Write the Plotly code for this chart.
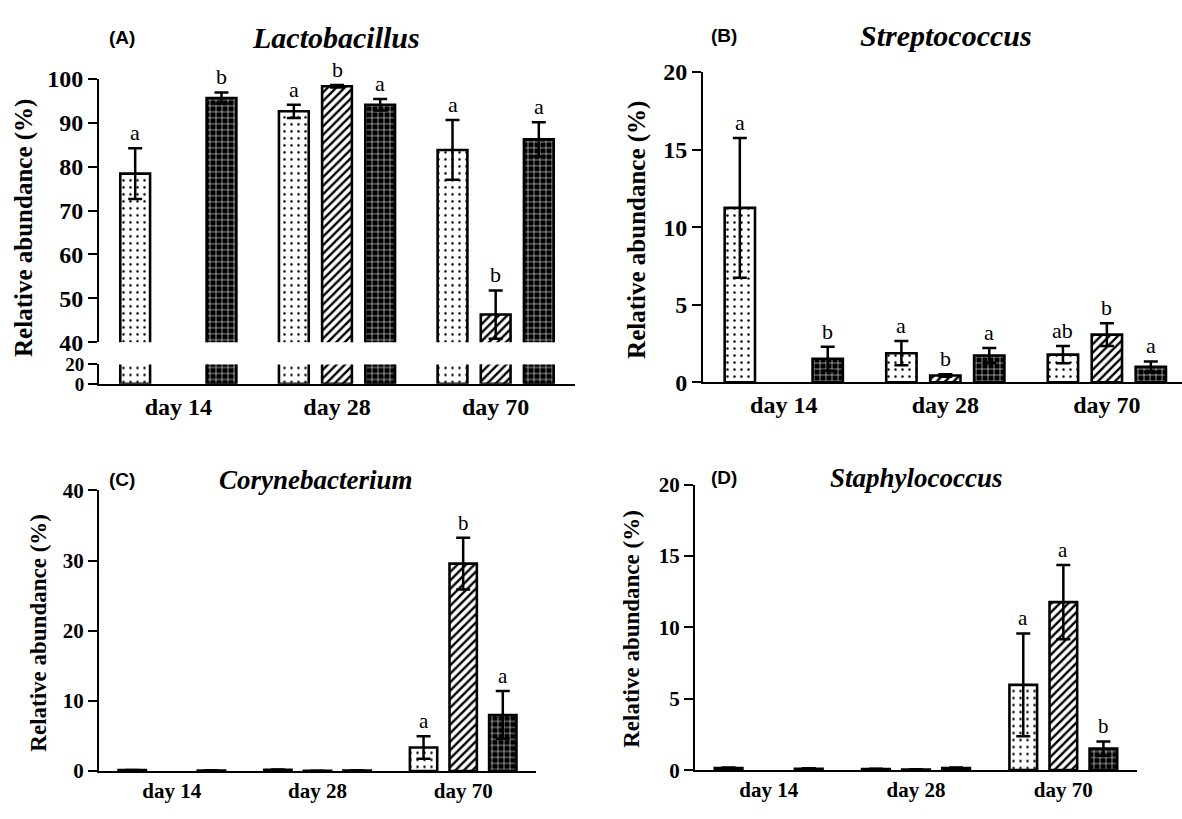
import plotly.graph_objects as go

W, H = 1182, 819

days = ["day 14", "day 28", "day 70"]

# Panel A: Lactobacillus
lacto_s1 = [78.4, 92.6, 83.8]
lacto_s1_err = [5.8, 1.5, 6.8]
lacto_s2 = [None, 98.3, 46.3]
lacto_s2_err = [None, 0.3, 5.5]
lacto_s3 = [95.6, 94.1, 86.2]
lacto_s3_err = [1.3, 1.3, 3.9]
lacto_letters = [["a", "a", "a"], ["", "b", "b"], ["b", "a", "a"]]

# Panel B: Streptococcus
strep_s1 = [11.25, 1.88, 1.79]
strep_s1_err = [4.5, 0.78, 0.56]
strep_s2 = [None, 0.44, 3.08]
strep_s2_err = [None, 0.08, 0.73]
strep_s3 = [1.52, 1.73, 1.0]
strep_s3_err = [0.77, 0.48, 0.35]
strep_letters = [["a", "a", "ab"], ["", "b", "b"], ["b", "a", "a"]]

# Panel C: Corynebacterium
coryne_s1 = [0.15, 0.2, 3.36]
coryne_s1_err = [0.03, 0.05, 1.6]
coryne_s2 = [None, 0.05, 29.56]
coryne_s2_err = [None, 0.02, 3.7]
coryne_s3 = [0.1, 0.1, 8.0]
coryne_s3_err = [0.03, 0.03, 3.4]
coryne_letters = [["", "", "a"], ["", "", "b"], ["", "", "a"]]

# Panel D: Staphylococcus
staph_s1 = [0.15, 0.08, 5.97]
staph_s1_err = [0.04, 0.02, 3.6]
staph_s2 = [None, 0.05, 11.77]
staph_s2_err = [None, 0.02, 2.6]
staph_s3 = [0.1, 0.15, 1.51]
staph_s3_err = [0.03, 0.04, 0.5]
staph_letters = [["", "", "a"], ["", "", "a"], ["", "", "b"]]

series_names = ["Group 1", "Group 2", "Group 3"]

BARGAP = 0.184
BARGROUPGAP = 0.31
SLOT = (1 - BARGAP) / 3

patterns = [
    dict(shape=".", fgcolor="black", bgcolor="white", size=7, solidity=0.1, fillmode="replace"),
    dict(shape="/", fgcolor="black", bgcolor="white", size=6, solidity=0.4, fillmode="replace"),
    dict(shape="+", fgcolor="white", bgcolor="black", size=6, solidity=0.18, fillmode="replace"),
]
fill_colors = ["white", "white", "black"]

SERIF = "Liberation Serif"
SANS = "Liberation Sans"

fig = go.Figure()
xidx = list(range(len(days)))


def add_bars(vals, errs, xa, ya, with_err=True):
    for j, (v, e) in enumerate(zip(vals, errs)):
        kw = {}
        if with_err:
            kw["error_y"] = dict(type="data", array=[x if x is not None else 0 for x in e],
                                 visible=True, color="black", thickness=2.5, width=7)
        fig.add_trace(go.Bar(
            x=xidx, y=v, name=series_names[j], xaxis=xa, yaxis=ya,
            marker=dict(color=fill_colors[j], pattern=patterns[j],
                        line=dict(color="black", width=2.6)),
            showlegend=False, **kw))


def add_letters(vals, errs, letters, xa, ya, size):
    for j in range(3):
        for i in range(3):
            t = letters[j][i]
            if not t or vals[j][i] is None:
                continue
            fig.add_annotation(
                x=i + (j - 1) * SLOT, y=vals[j][i] + (errs[j][i] or 0),
                xref=xa, yref=ya, text=t, showarrow=False,
                yanchor="bottom", yshift=1,
                font=dict(family=SERIF, size=size, color="black"))


# Panel A (broken axis)
A_vals = [lacto_s1, lacto_s2, lacto_s3]
A_errs = [lacto_s1_err, lacto_s2_err, lacto_s3_err]
add_bars(A_vals, A_errs, "x", "y", True)
add_bars(A_vals, A_errs, "x", "y2", False)
add_letters(A_vals, A_errs, lacto_letters, "x", "y", 22)

B_vals = [strep_s1, strep_s2, strep_s3]
B_errs = [strep_s1_err, strep_s2_err, strep_s3_err]
add_bars(B_vals, B_errs, "x2", "y3")
add_letters(B_vals, B_errs, strep_letters, "x2", "y3", 22)

C_vals = [coryne_s1, coryne_s2, coryne_s3]
C_errs = [coryne_s1_err, coryne_s2_err, coryne_s3_err]
add_bars(C_vals, C_errs, "x3", "y4")
add_letters(C_vals, C_errs, coryne_letters, "x3", "y4", 21)

D_vals = [staph_s1, staph_s2, staph_s3]
D_errs = [staph_s1_err, staph_s2_err, staph_s3_err]
add_bars(D_vals, D_errs, "x4", "y5")
add_letters(D_vals, D_errs, staph_letters, "x4", "y5", 21)


def px_x(p):
    return p / W


def px_y(p):
    return 1 - p / H


def xaxis(dom, anchor, fsize, rng=(-0.5, 2.5)):
    return dict(domain=[px_x(dom[0]), px_x(dom[1])], anchor=anchor, range=list(rng),
                tickvals=xidx, ticktext=days, showline=True, linecolor="black",
                linewidth=2, ticks="", showgrid=False, zeroline=False, fixedrange=True,
                tickfont=dict(family=SERIF, size=fsize, color="black", weight="bold"))


def yaxis(dom, anchor, rng, dtick, fsize, tickvals=None):
    d = dict(domain=[px_y(dom[1]), px_y(dom[0])], anchor=anchor, range=list(rng),
             showline=True, linecolor="black", linewidth=2, ticks="outside",
             ticklen=9, tickwidth=2, tickcolor="black", showgrid=False, zeroline=False,
             tickfont=dict(family=SERIF, size=fsize, color="black", weight="bold"))
    if tickvals is not None:
        d["tickvals"] = tickvals
    else:
        d["dtick"] = dtick
        d["tick0"] = 0
    return d


fig.update_layout(
    width=W, height=H, margin=dict(l=0, r=0, t=0, b=0),
    paper_bgcolor="white", plot_bgcolor="rgba(0,0,0,0)",
    barmode="group", bargap=BARGAP, bargroupgap=BARGROUPGAP,
    showlegend=False,
    xaxis=xaxis((99, 575), "y2", 24),
    yaxis=yaxis((68, 340), "x", (40, 100), 10, 24),
    yaxis2=yaxis((363, 383), "x", (0, 20), None, 19, tickvals=[0, 20]),
    xaxis2=xaxis((703, 1182), "y3", 24, rng=(-0.5, 2.465)),
    yaxis3=yaxis((61, 381.5), "x2", (0, 20), 5, 24),
    xaxis3=xaxis((99, 536), "y4", 21),
    yaxis4=yaxis((493, 783), "x3", (0, 40), 10, 21),
    xaxis4=xaxis((695, 1137), "y5", 21),
    yaxis5=yaxis((487, 782), "x4", (0, 20), 5, 21),
)

# Panel titles, labels and y-axis titles (paper coordinates)
titles = [
    ("Lactobacillus", 336, 25, 30, "(A)", 122, 24, 25, 222),
    ("Streptococcus", 946, 23, 30, "(B)", 724, 637, 25, 224),
    ("Corynebacterium", 316, 482, 27, "(C)", 122, 39, 23, 640),
    ("Staphylococcus", 916, 480, 27, "(D)", 724, 632, 23, 636),
]
for name, tx, ty, tsize, lab, lx, yx, ysize, yy in titles:
    fig.add_annotation(x=px_x(tx), y=px_y(ty), xref="paper", yref="paper",
                       text=name, showarrow=False,
                       xanchor="center", yanchor="middle",
                       font=dict(family=SERIF, size=tsize, color="black",
                                 weight="bold", style="italic"))
    fig.add_annotation(x=px_x(lx), y=px_y(ty), xref="paper", yref="paper",
                       text=lab, showarrow=False,
                       xanchor="center", yanchor="middle",
                       font=dict(family=SANS, size=19, color="black", weight="bold"))
    fig.add_annotation(x=px_x(yx), y=px_y(yy), xref="paper", yref="paper",
                       text="Relative abundance (%)", showarrow=False,
                       textangle=-90, xanchor="center", yanchor="middle",
                       font=dict(family=SERIF, size=ysize, color="black", weight="bold"))

fig.write_html("out.html")
